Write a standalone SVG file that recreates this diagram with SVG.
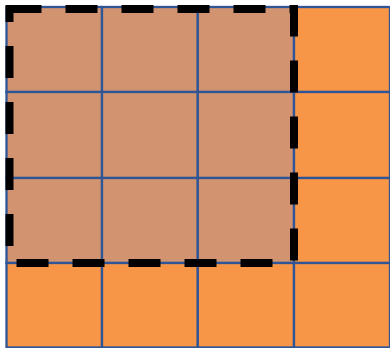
<svg xmlns="http://www.w3.org/2000/svg" width="390" height="348" viewBox="0 0 390 348">
<style>
.c{stroke:#2F5597;stroke-width:2.3}
.o{fill:#F79646}
.b{fill:#D29470}
.sel{fill:none;stroke:#000;stroke-width:8;stroke-dasharray:32 24}
</style>
<rect width="390" height="348" fill="#fff"/>
<g id="grid">
<g id="r1">
<rect class="c b" x="6.5" y="7" width="95.5" height="85"/>
<rect class="c b" x="102" y="7" width="95.8" height="85"/>
<rect class="c b" x="197.8" y="7" width="96.2" height="85"/>
<rect class="c o" x="294" y="7" width="96" height="85"/>
</g>
<g id="r2">
<rect class="c b" x="6.5" y="92" width="95.5" height="86"/>
<rect class="c b" x="102" y="92" width="95.8" height="86"/>
<rect class="c b" x="197.8" y="92" width="96.2" height="86"/>
<rect class="c o" x="294" y="92" width="96" height="86"/>
</g>
<g id="r3">
<rect class="c b" x="6.5" y="178" width="95.5" height="85"/>
<rect class="c b" x="102" y="178" width="95.8" height="85"/>
<rect class="c b" x="197.8" y="178" width="96.2" height="85"/>
<rect class="c o" x="294" y="178" width="96" height="85"/>
</g>
<g id="r4">
<rect class="c o" x="6.5" y="263" width="95.5" height="84.5"/>
<rect class="c o" x="102" y="263" width="95.8" height="84.5"/>
<rect class="c o" x="197.8" y="263" width="96.2" height="84.5"/>
<rect class="c o" x="294" y="263" width="96" height="84.5"/>
</g>
</g>
<g id="selection">
<rect class="sel" x="9.5" y="9" width="284.5" height="254"/>
</g>
</svg>
